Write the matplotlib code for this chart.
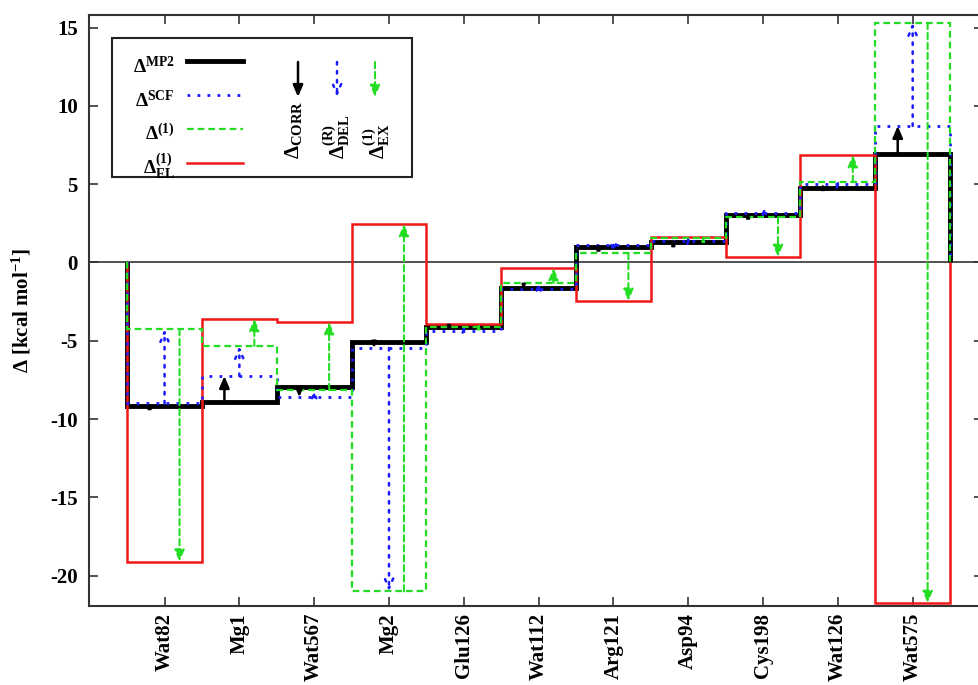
import numpy as np
import matplotlib
matplotlib.use('Agg')
import matplotlib.pyplot as plt
from matplotlib.lines import Line2D
from matplotlib.patches import Rectangle

categories = ['Wat82', 'Mg1', 'Wat567', 'Mg2', 'Glu126', 'Wat112',
              'Arg121', 'Asp94', 'Cys198', 'Wat126', 'Wat575']
delta_mp2 = [-9.15, -8.90, -7.95, -5.08, -4.15, -1.60, 1.00, 1.30, 3.03, 4.76, 6.93]
delta_scf = [-9.00, -7.25, -8.60, -5.46, -4.35, -1.72, 1.12, 1.40, 3.16, 5.00, 8.72]
delta_1 = [-4.25, -5.33, -8.15, -21.00, -4.10, -1.30, 0.60, 1.55, 2.90, 5.14, 15.30]
delta_1_el = [-19.10, -3.60, -3.80, 2.46, -3.95, -0.35, -2.45, 1.63, 0.35, 6.86, -21.74]
yticks = [-20, -15, -10, -5, 0, 5, 10, 15]

plt.rcParams.update({
    'font.family': ['Liberation Serif', 'DejaVu Serif'],
    'font.weight': 'bold',
    'mathtext.fontset': 'custom',
    'mathtext.rm': 'Liberation Serif:bold',
    'mathtext.it': 'Liberation Serif:bold',
    'mathtext.bf': 'Liberation Serif:bold',
    'mathtext.default': 'rm',
    'axes.unicode_minus': False,
})

W, H = 979, 685
L, R, T, B = 89, 983, 15, 606
fig = plt.figure(figsize=(W / 100, H / 100), dpi=100)
ax = fig.add_axes([L / W, (H - B) / H, (R - L) / W, (B - T) / H])


def ax_x(px):
    return (px - L) / (R - L)


def ax_y(py):
    return (B - py) / (B - T)


C_BLACK = 'black'
C_BLUE = '#1a1aff'
C_GREEN = '#22dd22'
C_RED = '#f01818'
LS_BLUE = (0, (1, 2.6))
LS_GREEN = (0, (3, 1.8))

n = len(categories)
x = np.arange(n)
edges = np.arange(n + 1) - 0.5

ax.set_xlim(-1.01, 10.94)
ax.set_ylim(-21.93, 15.8)

ax.axhline(0, color='#222222', lw=1.1, zorder=1)
ax.stairs(delta_mp2, edges, baseline=0, color=C_BLACK, lw=3.5, zorder=2)
ax.stairs(delta_1_el, edges, baseline=0, color=C_RED, lw=1.8, zorder=3)
ax.stairs(delta_scf, edges, baseline=0, color=C_BLUE, lw=2.0, ls=LS_BLUE, zorder=4)
ax.stairs(delta_1, edges, baseline=0, color=C_GREEN, lw=1.6, ls=LS_GREEN, zorder=5)

px_per_unit = (B - T) / (15.8 + 21.93)


def arrow_props(style, color, lw, ls, dy):
    # shrink the head for very short arrows
    length_px = abs(dy) * px_per_unit
    ms = 10.0 if length_px >= 14 else max(2.5, 10.0 * length_px / 14)
    return dict(arrowstyle=style + ',head_length=0.7,head_width=0.3', color=color,
                lw=lw, ls=ls, shrinkA=0, shrinkB=0, mutation_scale=ms)


for i in range(n):
    ax.annotate('', xy=(x[i] - 0.2, delta_scf[i]), xytext=(x[i] - 0.2, delta_mp2[i]),
                arrowprops=arrow_props('-|>', C_BLACK, 1.8, '-', delta_scf[i] - delta_mp2[i]),
                zorder=6)
    ax.annotate('', xy=(x[i], delta_1[i]), xytext=(x[i], delta_scf[i]),
                arrowprops=arrow_props('->', C_BLUE, 1.8, LS_BLUE, delta_1[i] - delta_scf[i]),
                zorder=6)
    ax.annotate('', xy=(x[i] + 0.2, delta_1_el[i]), xytext=(x[i] + 0.2, delta_1[i]),
                arrowprops=arrow_props('-|>', C_GREEN, 1.5, LS_GREEN, delta_1_el[i] - delta_1[i]),
                zorder=6)

ax.set_xticks(x)
ax.set_xticklabels(categories, rotation=90, fontsize=15, fontweight='bold')
ax.set_yticks(yticks)
ax.set_yticklabels([str(v) for v in yticks], fontsize=15, fontweight='bold')
ax.tick_params(direction='in', length=6.5, width=1.2, top=True, right=True, color='#333333')
ax.tick_params(axis='x', pad=5)
ax.tick_params(axis='y', pad=8)
for s in ax.spines.values():
    s.set_linewidth(1.5)
    s.set_color('#333333')

ax.set_ylabel(r'Δ [kcal mol$^{-1}$]', fontsize=15, fontweight='bold')
ax.yaxis.set_label_coords(ax_x(33), 0.5)

# legend
handles = [Line2D([], [], color=C_BLACK, lw=3.5),
           Line2D([], [], color=C_BLUE, lw=2.0, ls=LS_BLUE),
           Line2D([], [], color=C_GREEN, lw=1.6, ls=LS_GREEN),
           Line2D([], [], color=C_RED, lw=1.8)]
labels = [r'$\Delta^{MP2}$', r'$\Delta^{SCF}$', r'$\Delta^{(1)}$', r'$\Delta^{(1)}_{EL}$']
leg = ax.legend(handles, labels, loc='upper right',
                bbox_to_anchor=(ax_x(243), ax_y(50)), frameon=False, markerfirst=False,
                borderpad=0, borderaxespad=0, handlelength=2.9, handletextpad=0.62,
                labelspacing=0.0, handleheight=2.3,
                prop={'family': 'Liberation Serif', 'weight': 'bold', 'size': 14})
leg.set_zorder(8)

ax.add_patch(Rectangle((ax_x(112), ax_y(177)), ax_x(412) - ax_x(112), ax_y(38) - ax_y(177),
                       transform=ax.transAxes, fill=False, ec='#222222', lw=1.5, zorder=7))

for px, style, color, lw, ls, lab, lx in [
        (298, '-|>', C_BLACK, 1.8, '-', r'$\Delta_{CORR}$', 294),
        (337, '->', C_BLUE, 1.8, LS_BLUE, r'$\Delta^{(R)}_{DEL}$', 337),
        (375, '-|>', C_GREEN, 1.5, LS_GREEN, r'$\Delta^{(1)}_{EX}$', 377)]:
    ax.annotate('', xy=(ax_x(px), ax_y(97)), xytext=(ax_x(px), ax_y(62)),
                xycoords='axes fraction', textcoords='axes fraction',
                arrowprops=arrow_props(style, color, lw, ls, 10.0), zorder=8)
    ax.text(ax_x(lx), ax_y(159), lab, rotation=90, ha='center', va='bottom',
            transform=ax.transAxes, fontsize=15, fontweight='bold', zorder=8)

fig.savefig('out.png', dpi=100)
